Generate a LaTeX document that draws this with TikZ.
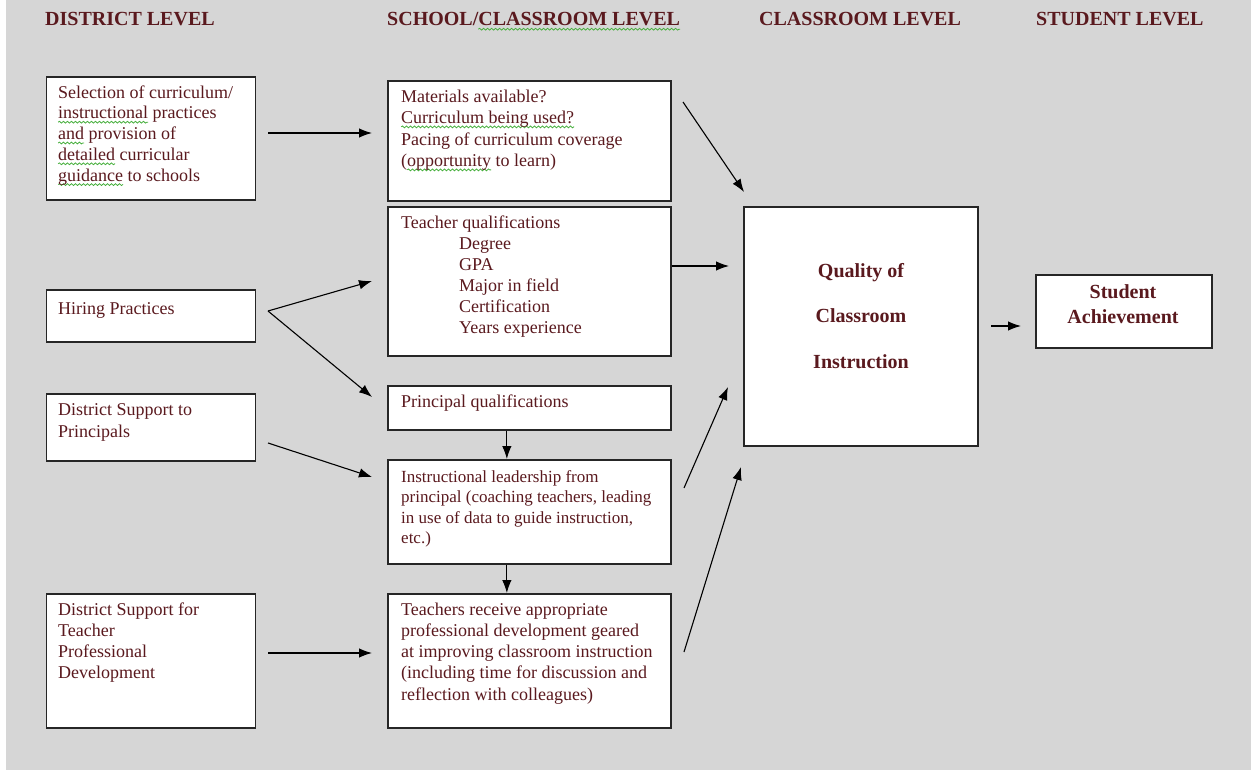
\documentclass[tikz,border=0pt]{standalone}
\usepackage{fontspec}
\setmainfont{Liberation Serif}
\usetikzlibrary{arrows.meta,decorations.pathmorphing}
\definecolor{tcol}{RGB}{90,25,30}
\definecolor{bgcol}{RGB}{214,214,214}
\definecolor{sqc}{RGB}{70,175,60}
\newsavebox\sqbox
\newcommand\sqw[1]{\sbox\sqbox{#1}\tikz[overlay,baseline=0pt]\draw[sqc,line width=.8pt,decorate,decoration={snake,amplitude=.9pt,segment length=4pt}] (0pt,-3.2pt) -- (\wd\sqbox,-3.2pt);\usebox\sqbox}
\newcommand\fs{\rule{0pt}{14pt}}
\newcommand\fb{\rule{0pt}{15pt}}
\begin{document}
\begin{tikzpicture}[x=1pt,y=-1pt,
  box/.style={draw=black!85,line width=1.7pt,fill=white,anchor=north west,inner sep=0pt},
  txt/.style={inner sep=0pt,anchor=north west,align=left,text=tcol,font=\fontsize{18}{20.8}\selectfont},
  hdr/.style={inner sep=0pt,anchor=base west,text=tcol,font=\fontsize{20}{24}\selectfont\bfseries},
  arr/.style={-{Latex[length=13pt,width=9.5pt]},line width=1.1pt,black}]
\useasboundingbox (0,0) rectangle (1251,770);
\fill[white] (0,0) rectangle (1251,770);
\fill[bgcol] (6,0) rectangle (1251,770);

% headers
\node[hdr] (h1) at (45,26) {DISTRICT LEVEL};
\node[hdr] (h2) at (387,26) {SCHOOL/\sqw{CLASSROOM LEVEL}};
\node[hdr] (h3) at (759,26) {CLASSROOM LEVEL};
\node[hdr] (h4) at (1036,26) {STUDENT LEVEL};

% district column
\node[box,minimum width=209,minimum height=123] (b1) at (45.5,76) {};
\node[txt] (b1t) at (58,84) {\fs Selection of curriculum/\\\sqw{instructional} practices\\\sqw{and} provision of\\\sqw{detailed} curricular\\\sqw{guidance} to schools};
\node[box,minimum width=209,minimum height=52] (hp) at (45.5,289) {};
\node[txt] (hpt) at (58,300) {\fs Hiring Practices};
\node[box,minimum width=209,minimum height=67] (dsp) at (45.5,393) {};
\node[txt,font=\fontsize{18}{22}\selectfont] (dspt) at (58,401) {\fs District Support to\\Principals};
\node[box,minimum width=209,minimum height=134] (dspd) at (45.5,593) {};
\node[txt,font=\fontsize{18}{21}\selectfont] (dspdt) at (58,601) {\fs District Support for\\Teacher\\Professional\\Development};

% school column
\node[box,minimum width=283,minimum height=120] (mat) at (387,80) {};
\node[txt,font=\fontsize{18}{21.5}\selectfont] (matt) at (401,88) {\fs Materials available?\\\sqw{Curriculum being used?}\\Pacing of curriculum coverage\\(\sqw{opportunity} to learn)};
\node[box,minimum width=283,minimum height=149] (tq) at (387,206) {};
\node[txt,font=\fontsize{18}{21}\selectfont] (tqt) at (401,214) {\fs Teacher qualifications\\\hspace*{58pt}Degree\\\hspace*{58pt}GPA\\\hspace*{58pt}Major in field\\\hspace*{58pt}Certification\\\hspace*{58pt}Years experience};
\node[box,minimum width=283,minimum height=44] (pq) at (387,385) {};
\node[txt] (pqt) at (401,393) {\fs Principal qualifications};
\node[box,minimum width=283,minimum height=104] (il) at (387,459) {};
\node[txt,font=\fontsize{17}{20.5}\selectfont] (ilt) at (401,468) {\fs Instructional leadership from\\principal (coaching teachers, leading\\in use of data to guide instruction,\\etc.)};
\node[box,minimum width=283,minimum height=134] (tr) at (387,593) {};
\node[txt,font=\fontsize{18}{21.2}\selectfont] (trt) at (401,601) {\fs Teachers receive appropriate\\professional development geared\\at improving classroom instruction\\(including time for discussion and\\reflection with colleagues)};

% classroom and student
\node[box,minimum width=234,minimum height=239] (qc) at (743,206) {};
\node[inner sep=0pt,anchor=north,align=center,text=tcol,font=\fontsize{20}{45.5}\selectfont\bfseries] (qct) at (861,262) {\fb Quality of\\Classroom\\Instruction};
\node[box,minimum width=176,minimum height=73] (sa) at (1035,274) {};
\node[inner sep=0pt,anchor=north,align=center,text=tcol,font=\fontsize{20}{25}\selectfont\bfseries] (sat) at (1123,283) {\fb Student\\Achievement};

% free connector ends
\coordinate (c1s) at (268,133);   \coordinate (c1e) at (372,133);
\coordinate (c2s) at (683,102);   \coordinate (c2e) at (744,192);
\coordinate (c3e) at (729,266);
\coordinate (c4s) at (268,311);   \coordinate (c4e) at (372,281);
\coordinate (c5e) at (372,397);
\coordinate (c6s) at (268,443);   \coordinate (c6e) at (372,477);
\coordinate (c9s) at (684,488);   \coordinate (c9e) at (728,387);
\coordinate (c10s) at (684,652);  \coordinate (c10e) at (741,467);
\coordinate (c11s) at (268,653);  \coordinate (c11e) at (372,653);
\coordinate (c12s) at (991,326);  \coordinate (c12e) at (1021,326);

\draw[arr] (c1s) -- (c1e);
\draw[arr] (c2s) -- (c2e);
\draw[arr] (tq.east |- c3e) -- (c3e);
\draw[arr] (c4s) -- (c4e);
\draw[arr] (c4s) -- (c5e);
\draw[arr] (c6s) -- (c6e);
\draw[arr] ([xshift=-22.5pt]pq.south) -- ([xshift=-22.5pt]il.north);
\draw[arr] ([xshift=-22.5pt]il.south) -- ([xshift=-22.5pt]tr.north);
\draw[arr] (c9s) -- (c9e);
\draw[arr] (c10s) -- (c10e);
\draw[arr] (c11s) -- (c11e);
\draw[arr] (c12s) -- (c12e);
\end{tikzpicture}
\end{document}
